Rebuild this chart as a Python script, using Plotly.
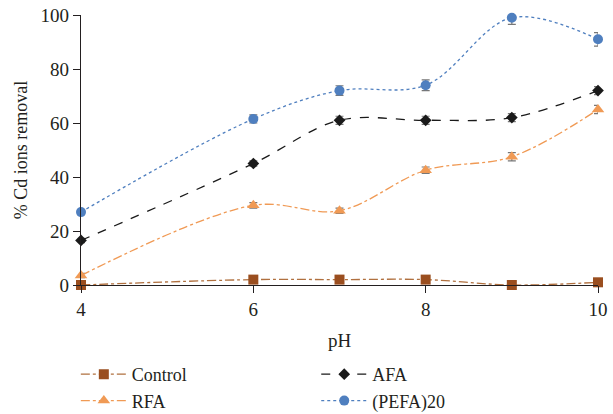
import plotly.graph_objects as go

ph = [4, 6, 7, 8, 9, 10]
control = [0, 2, 2, 2, 0, 1]
rfa = [3.5, 29.5, 27.5, 42.5, 47.5, 65]
afa = [16.5, 45, 61, 61, 62, 72]
pefa = [27, 61.5, 72, 74, 99, 91]
err_control = [0.3, 0.3, 0.3, 0.3, 0.3, 0.3]
err_rfa = [0.8, 1.0, 1.0, 1.2, 1.5, 1.5]
err_afa = [0.8, 1.0, 1.5, 1.5, 1.5, 1.5]
err_pefa = [0.8, 1.5, 1.8, 2.0, 2.5, 2.5]

FONT = "Liberation Serif"

fig = go.Figure()

def add(name, y, err, color, lcolor, dash, symbol, size, legend):
    fig.add_trace(go.Scatter(
        x=ph, y=y, name=name, mode="lines+markers", legend=legend,
        line=dict(color=lcolor, dash=dash, width=1.3, shape="spline", smoothing=1.0),
        marker=dict(color=color, symbol=symbol, size=size),
        error_y=dict(type="data", array=err, color="#777777", thickness=1.2, width=4),
        cliponaxis=False,
    ))

add("Control", control, err_control, "#9a4e1f", "#b0703f", "dashdot", "square", 10, "legend")
add("RFA", rfa, err_rfa, "#f09a55", "#f09a55", "dashdot", "triangle-up", 11, "legend")
add("AFA", afa, err_afa, "#1a1a1a", "#1a1a1a", "dash", "diamond", 9, "legend2")
add("(PEFA)20", pefa, err_pefa, "#4f7fbf", "#4f7fbf", "dot", "circle", 10, "legend2")

leg_common = dict(orientation="v", yanchor="top", font=dict(size=18, family=FONT),
                  tracegroupgap=0, itemwidth=46, bgcolor="rgba(0,0,0,0)")

fig.update_layout(
    width=613, height=414,
    margin=dict(l=81, r=15, t=15, b=129, autoexpand=False),
    plot_bgcolor="white", paper_bgcolor="white",
    font=dict(family=FONT, size=19, color="#231f20"),
    xaxis=dict(range=[4, 10], tickvals=[4, 6, 8, 10], showgrid=False, zeroline=False,
               showline=True, linecolor="#231f20", linewidth=1.2,
               ticks="outside", ticklen=7, tickcolor="#231f20",
               title=dict(text="pH", standoff=14, font=dict(size=19))),
    yaxis=dict(range=[0, 100], tickvals=[0, 20, 40, 60, 80, 100], showgrid=False, zeroline=False,
               showline=True, linecolor="#231f20", linewidth=1.2,
               ticks="outside", ticklen=7, tickcolor="#231f20",
               title=dict(text="% Cd ions removal", standoff=8, font=dict(size=18))),
    legend=dict(x=-0.01, xanchor="left", y=-0.263, **leg_common),
    legend2=dict(x=0.455, xanchor="left", y=-0.263, **leg_common),
    showlegend=True,
)

fig.write_html("out.html")
